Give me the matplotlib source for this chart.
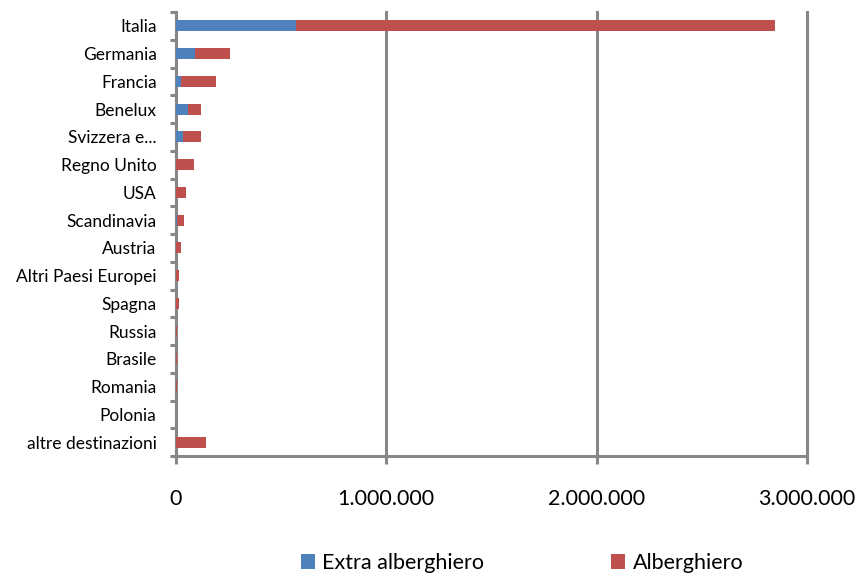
import numpy as np
import matplotlib.pyplot as plt
from matplotlib.ticker import FuncFormatter, FixedLocator

paesi = ['Italia', 'Germania', 'Francia', 'Benelux', 'Svizzera e...', 'Regno Unito',
         'USA', 'Scandinavia', 'Austria', 'Altri Paesi Europei', 'Spagna', 'Russia',
         'Brasile', 'Romania', 'Polonia', 'altre destinazioni']
extra_alberghiero = [571000, 92000, 22000, 59000, 32000, 2000, 1000, 3000,
                     1000, 1000, 1000, 1000, 1000, 1000, 500, 2000]
alberghiero = [2275000, 165000, 167000, 58000, 85000, 82000, 48000, 37000,
               21000, 13000, 13000, 4000, 4000, 4000, 1500, 142000]

plt.rcParams['font.family'] = ['Lato', 'DejaVu Sans']
grey = '#878787'

fig = plt.figure(figsize=(8.59, 5.81), dpi=100)
ax = fig.add_axes([176 / 859, 1 - 456 / 581, 631 / 859, 444 / 581])

y = np.arange(len(paesi))
ea = np.array(extra_alberghiero)
al = np.array(alberghiero)
ax.barh(y, ea, height=0.4, color='#4F81BD', label='Extra alberghiero', zorder=3)
ax.barh(y, al, left=ea, height=0.4, color='#C0504D', label='Alberghiero', zorder=3)

ax.set_ylim(len(paesi) - 0.5, -0.5)
ax.set_xlim(0, 3000000)
ax.set_xticks([0, 1000000, 2000000, 3000000])
ax.xaxis.set_major_formatter(FuncFormatter(lambda v, p: f'{int(v):,}'.replace(',', '.')))
ax.set_yticks(y)
ax.set_yticklabels(paesi)
ax.yaxis.set_minor_locator(FixedLocator(np.arange(-0.5, len(paesi), 1)))
ax.tick_params(axis='y', which='major', length=0, pad=14, labelsize=12.5)
ax.tick_params(axis='y', which='minor', length=4.5, width=2.2, color=grey)
ax.tick_params(axis='x', which='major', length=6, width=2.2, color=grey, labelsize=15.5, pad=18)

ax.grid(axis='x', color=grey, linewidth=2.2, zorder=0)
for line in ax.get_xgridlines():
    line.set_clip_on(False)
for s in ['top', 'right']:
    ax.spines[s].set_visible(False)
for s in ['left', 'bottom']:
    ax.spines[s].set_color(grey)
    ax.spines[s].set_linewidth(2.2)

fig.legend(loc='center', bbox_to_anchor=(522 / 859, 1 - 563 / 581), ncol=2,
           frameon=False, fontsize=15.5, columnspacing=5.9, handlelength=0.65,
           handleheight=0.65, handletextpad=0.35)

fig.savefig('out.png', dpi=100)
